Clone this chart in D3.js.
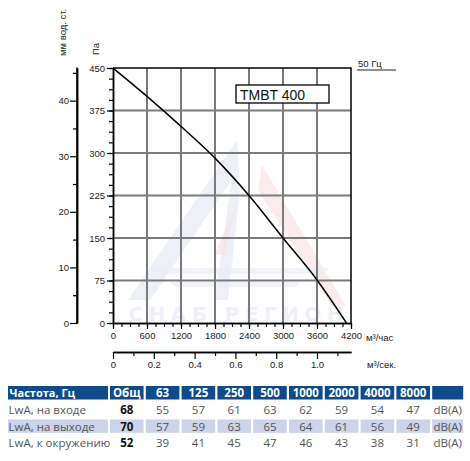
<!DOCTYPE html>
<html><head><meta charset="utf-8">
<script src="https://cdn.jsdelivr.net/npm/d3@7"></script>
<style>body{margin:0;background:#fff}svg{display:block}</style>
</head><body>
<svg id="c" width="470" height="461"></svg>
<script>
// ---- data ----
const flow = [0, 600, 1200, 1800, 2400, 3000, 3600, 4120];
const pressure = [450, 400, 347, 291, 225, 150, 76, 0];
const paTicks = [0, 75, 150, 225, 300, 375, 450];
const mmTicks = [0, 10, 20, 30, 40];
const flowTicks = [0, 600, 1200, 1800, 2400, 3000, 3600, 4200];
const secTicks = [0, 0.2, 0.4, 0.6, 0.8, 1.0];
const freqs = ["Общ", "63", "125", "250", "500", "1000", "2000", "4000", "8000", ""];
const rowLabels = ["LwA, на входе", "LwA, на выходе", "LwA, к окружению"];
const totals = [68, 70, 52];
const inlet = [55, 57, 61, 63, 62, 59, 54, 47];
const outlet = [57, 59, 63, 65, 64, 61, 56, 49];
const surround = [39, 41, 45, 47, 46, 43, 38, 31];
const modelName = "TMBT 400";
const freqLabel = "50 Гц";

const svg = d3.select("#c");
const F = "'Liberation Sans', Arial, sans-serif";
const T = "'Open Sans', 'Noto Sans', sans-serif";

const x = d3.scaleLinear([0, 4200], [113, 351]);
const y = d3.scaleLinear([0, 450], [323, 68]);
const ymm = d3.scaleLinear([0, 450 / 9.81], [323, 68]);
const xs = d3.scaleLinear([0, 4200 / 3600], [113, 351]);

// watermark (faint)
const wm = svg.append("g").attr("opacity", 0.5);
wm.append("path").attr("d", "M237,140 L128,300 L150,300 L237,172 Z M237,140 L215,300 L228,300 L240,190 Z")
  .attr("fill", "#c9cfea").attr("opacity", 0.6);
wm.append("path").attr("d", "M262,165 L346,306 L332,306 L258,190 Z M236,205 L214,255 L224,255 Z")
  .attr("fill", "#f1c3c3").attr("opacity", 0.6);
wm.append("path").attr("d", "M150,268 L330,268 L322,274 L158,274 Z M170,282 L300,282 L296,287 L175,287 Z")
  .attr("fill", "#d3d8ee").attr("opacity", 0.6);
wm.append("text").attr("x", 236).attr("y", 321).attr("text-anchor", "middle")
  .attr("font-family", "'DejaVu Sans', sans-serif").attr("font-weight", "bold").attr("font-size", 20)
  .attr("fill", "#dfe2f4").attr("textLength", 215).text("СНАБ РЕГИОН");

// grid lines
const gridG = svg.append("g").attr("class", "gridlines");
gridG.selectAll("line.v").data(flowTicks.slice(1, -1)).join("line").attr("class", "v")
  .attr("x1", d => x(d)).attr("x2", d => x(d)).attr("y1", y(0)).attr("y2", y(450))
  .attr("stroke", "#7a7a7a").attr("stroke-width", 2);
gridG.selectAll("line.h").data(paTicks.slice(1, -1)).join("line").attr("class", "h")
  .attr("x1", x(0)).attr("x2", x(4200)).attr("y1", d => y(d)).attr("y2", d => y(d))
  .attr("stroke", "#7a7a7a").attr("stroke-width", 2);

function styleAxis(g) {
  g.select(".domain").attr("stroke", "#000").attr("stroke-width", 1.5);
  g.selectAll(".tick line").attr("stroke", "#000").attr("stroke-width", 1.2);
  g.selectAll(".tick text").attr("font-family", F).attr("font-size", 9.5).attr("fill", "#222");
}
function minorStyle(g) {
  styleAxis(g);
  g.selectAll(".tick text").remove();
}
const minor = (a, b, s) => d3.range(a, b + 1e-9, s);

// Pa axis
svg.append("g").attr("transform", `translate(${x(0)},0)`)
  .call(d3.axisLeft(y).tickValues(minor(0, 450, 18.75)).tickSize(4).tickSizeOuter(0)).call(minorStyle);
svg.append("g").attr("transform", `translate(${x(0)},0)`)
  .call(d3.axisLeft(y).tickValues(paTicks).tickSize(6).tickPadding(2).tickSizeOuter(0)).call(styleAxis);

// mm axis
svg.append("g").attr("transform", "translate(77,0)")
  .call(d3.axisLeft(ymm).tickValues([5, 15, 25, 35, 45]).tickSize(4).tickSizeOuter(0)).call(minorStyle);
svg.append("g").attr("transform", "translate(77,0)")
  .call(d3.axisLeft(ymm).tickValues(mmTicks).tickSize(7).tickPadding(1).tickSizeOuter(0)).call(styleAxis);
svg.append("line").attr("x1", 77).attr("x2", 77).attr("y1", 67.5).attr("y2", 323.5).attr("stroke", "#000").attr("stroke-width", 1.5);

// flow axis m3/h
svg.append("g").attr("transform", `translate(0,${y(0)})`)
  .call(d3.axisBottom(x).tickValues(minor(0, 4200, 150)).tickSize(4).tickSizeOuter(0)).call(minorStyle);
svg.append("g").attr("transform", `translate(0,${y(0)})`)
  .call(d3.axisBottom(x).tickValues(flowTicks).tickSize(6).tickPadding(3).tickSizeOuter(0).tickFormat(d3.format("d"))).call(styleAxis);

// flow axis m3/s
svg.append("g").attr("transform", "translate(0,352)")
  .call(d3.axisBottom(xs).tickValues(minor(0.1, 1.1, 0.2)).tickSize(4).tickSizeOuter(0)).call(minorStyle);
svg.append("g").attr("transform", "translate(0,352)")
  .call(d3.axisBottom(xs).tickValues(secTicks).tickSize(7).tickPadding(2).tickSizeOuter(0)
    .tickFormat(d => d === 0 ? "0" : d3.format(".1f")(d))).call(styleAxis);

// frame top/right
svg.append("path").attr("d", `M${x(0)},${y(450)}H${x(4200)}V${y(0)}`)
  .attr("fill", "none").attr("stroke", "#000").attr("stroke-width", 1.5);

// unit labels
const lab = (xx, yy, t, rot) => svg.append("text").attr("transform", `translate(${xx},${yy})` + (rot ? " rotate(-90)" : ""))
  .attr("font-family", F).attr("font-size", 9.5).attr("fill", "#222").text(t);
lab(366, 341, "м³/час");
lab(367, 368, "м³/сек.");
lab(99, 55, "Па", true);
lab(66, 56, "мм вод. ст.", true);

// 50 Hz
svg.append("text").attr("x", 358).attr("y", 67).attr("font-family", F).attr("font-size", 9.5).attr("fill", "#222").text(freqLabel);
svg.append("line").attr("x1", 357).attr("x2", 396).attr("y1", 70).attr("y2", 70).attr("stroke", "#222").attr("stroke-width", 1);

// curve
const pts = flow.map((f, i) => [f, pressure[i]]);
svg.append("path").datum(pts)
  .attr("d", d3.line().x(d => x(d[0])).y(d => y(d[1])).curve(d3.curveMonotoneX))
  .attr("fill", "none").attr("stroke", "#000").attr("stroke-width", 1.5);

// model box
svg.append("rect").attr("x", 236).attr("y", 85).attr("width", 93).attr("height", 18)
  .attr("fill", "#fff").attr("stroke", "#000").attr("stroke-width", 1.3);
svg.append("text").attr("x", 240).attr("y", 99.5).attr("font-family", F).attr("font-size", 14).attr("fill", "#111").text(modelName);

// ---- table ----
const tbl = svg.append("g");
const colX = i => 110 + i * 35.8;
const colW = i => i === 9 ? 31 : 33.6;
const hdrY = 386, hdrH = 13.5;
const rowC = [410, 426.5, 443];
tbl.append("rect").attr("x", 8).attr("y", hdrY).attr("width", 100).attr("height", hdrH).attr("fill", "#0d4b8b");
tbl.append("text").attr("x", 9.5).attr("y", hdrY + 10.5).attr("font-family", T).attr("font-weight", "bold")
  .attr("font-size", 11).attr("fill", "#fff").text("Частота, Гц");
freqs.forEach((f, i) => {
  tbl.append("rect").attr("x", colX(i)).attr("y", hdrY).attr("width", colW(i)).attr("height", hdrH).attr("fill", "#0d4b8b");
  tbl.append("text").attr("x", colX(i) + colW(i) / 2).attr("y", hdrY + 10.8).attr("text-anchor", "middle")
    .attr("font-family", T).attr("font-weight", "bold").attr("font-size", 11.5).attr("fill", "#fff").text(f);
});
tbl.append("rect").attr("x", 8).attr("y", 419.5).attr("width", 100).attr("height", 13.3).attr("fill", "#cdd3ea");
freqs.forEach((f, i) => tbl.append("rect").attr("x", colX(i)).attr("y", 419.5).attr("width", colW(i)).attr("height", 13.3).attr("fill", "#cdd3ea"));

const rows = [inlet, outlet, surround];
rows.forEach((vals, r) => {
  const cy = rowC[r] + 4;
  tbl.append("text").attr("x", 8.5).attr("y", cy).attr("font-family", T).attr("font-size", 11.5).attr("fill", "#555").text(rowLabels[r]);
  tbl.append("text").attr("x", colX(0) + colW(0) / 2).attr("y", cy).attr("text-anchor", "middle")
    .attr("font-family", T).attr("font-weight", "bold").attr("font-size", 11.5).attr("fill", "#111").text(totals[r]);
  vals.forEach((v, j) => tbl.append("text").attr("x", colX(j + 1) + colW(j + 1) / 2).attr("y", cy).attr("text-anchor", "middle")
    .attr("font-family", T).attr("font-size", 11.5).attr("fill", "#555").text(v));
  tbl.append("text").attr("x", colX(9) + colW(9) / 2).attr("y", cy).attr("text-anchor", "middle")
    .attr("font-family", T).attr("font-size", 11.5).attr("fill", "#555").text("dB(A)");
});
</script>
</body></html>
